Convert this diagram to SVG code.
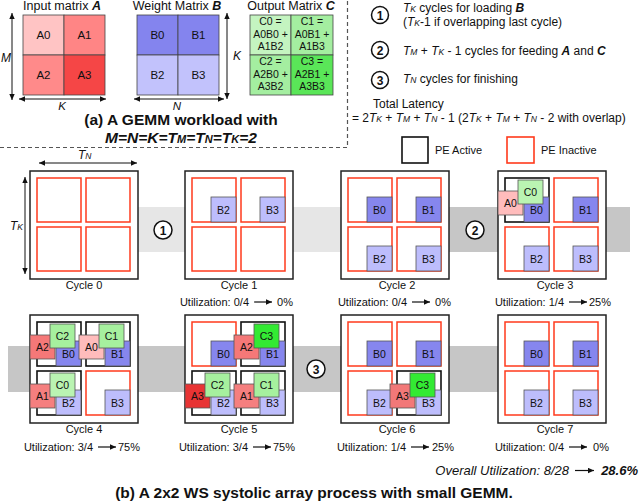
<svg xmlns="http://www.w3.org/2000/svg" width="640" height="504" viewBox="0 0 640 504">
<defs>
<style>
text{font-family:"Liberation Sans",Arial,sans-serif;fill:#111}
.c{text-anchor:middle}
.e{text-anchor:end}
.it{font-style:italic}
.bi{font-weight:bold;font-style:italic}
.cell{stroke:#444;stroke-width:0.8}
.ml{font-size:11.5px;text-anchor:middle}
.box{fill:#fff;stroke:#222;stroke-width:1.5}
.pi{fill:#fff;stroke:#ff3a1c;stroke-width:1.5}
.pa{fill:#fff;stroke:#111;stroke-width:1.6}
.sq{stroke:#555;stroke-width:0.8}
.sl{font-size:10.5px;text-anchor:middle}
.bd{fill:#8686ee}
.bl{fill:#bdbdfc}
.lab{font-size:11px;text-anchor:middle}
.ut{font-size:11px}
.arr{stroke:#111;stroke-width:1.2;fill:none}
.dim{stroke:#111;stroke-width:1;fill:none;marker-start:url(#ah);marker-end:url(#ah)}
.num{font-size:12px;font-weight:bold;text-anchor:middle}
.circ{fill:#fff;stroke:#111;stroke-width:1.5}
.rt{font-size:12px}
.sm{font-size:8.5px}
</style>
<marker id="ah" viewBox="0 0 10 10" refX="10" refY="5" markerUnits="userSpaceOnUse" markerWidth="7" markerHeight="6" orient="auto-start-reverse"><path d="M0,0.5 L10,5 L0,9.5 z" fill="#111"/></marker>
<marker id="ua" viewBox="0 0 10 10" refX="10" refY="5" markerUnits="userSpaceOnUse" markerWidth="7" markerHeight="6" orient="auto"><path d="M0,0.5 L10,5 L0,9.5 z" fill="#111"/></marker>
</defs>
<rect width="640" height="504" fill="#fff"/>

<!-- background bands -->
<g id="bands">
<rect x="100" y="207" width="296" height="45" fill="#e6e6e6"/>
<rect x="396" y="207" width="234" height="45" fill="#c6c6c6"/>
<rect x="8" y="346" width="500" height="46" fill="#c6c6c6"/>
</g>

<!-- (a) matrices -->
<g id="matrix-a">
<text x="62" y="10" font-size="12.5" class="c">Input matrix <tspan class="bi">A</tspan></text>
<rect class="cell" x="23" y="15" width="41" height="40" fill="#ffc4c4"/>
<rect class="cell" x="64" y="15" width="41" height="40" fill="#ff8585"/>
<rect class="cell" x="23" y="55" width="41" height="40" fill="#ff8a8a"/>
<rect class="cell" x="64" y="55" width="41" height="40" fill="#f54646"/>
<text class="ml" x="43.5" y="39">A0</text>
<text class="ml" x="84.5" y="39">A1</text>
<text class="ml" x="43.5" y="79">A2</text>
<text class="ml" x="84.5" y="79">A3</text>
<text x="1" y="62" font-size="12" class="it">M</text>
<text x="62" y="110" font-size="11.5" class="it c">K</text>
</g>
<g id="matrix-b">
<text x="177" y="10" font-size="12.5" class="c">Weight Matrix <tspan class="bi">B</tspan></text>
<rect class="cell" x="137" y="15" width="41" height="40" fill="#8484ee"/>
<rect class="cell" x="178" y="15" width="41" height="40" fill="#8484ee"/>
<rect class="cell" x="137" y="55" width="41" height="40" fill="#c2c2fc"/>
<rect class="cell" x="178" y="55" width="41" height="40" fill="#c2c2fc"/>
<text class="ml" x="157.5" y="39">B0</text>
<text class="ml" x="198.5" y="39">B1</text>
<text class="ml" x="157.5" y="79">B2</text>
<text class="ml" x="198.5" y="79">B3</text>
<text x="177" y="110" font-size="11.5" class="it c">N</text>
<text x="233" y="60" font-size="12" class="it">K</text>
</g>
<g id="matrix-c">
<text x="291" y="10" font-size="12.5" class="c">Output Matrix <tspan class="bi">C</tspan></text>
<rect class="cell" x="250" y="15" width="41" height="40" fill="#c4f4c0"/>
<rect class="cell" x="291" y="15" width="42" height="40" fill="#a4eea0"/>
<rect class="cell" x="250" y="55" width="41" height="40" fill="#a4eea0"/>
<rect class="cell" x="291" y="55" width="42" height="40" fill="#5ae658"/>
<g font-size="10.5" text-anchor="middle">
<text x="270.5" y="25">C0 =</text><text x="270.5" y="37.5">A0B0 +</text><text x="270.5" y="50">A1B2</text>
<text x="312" y="25">C1 =</text><text x="312" y="37.5">A0B1 +</text><text x="312" y="50">A1B3</text>
<text x="270.5" y="65">C2 =</text><text x="270.5" y="77.5">A2B0 +</text><text x="270.5" y="90">A3B2</text>
<text x="312" y="65">C3 =</text><text x="312" y="77.5">A2B1 +</text><text x="312" y="90">A3B3</text>
</g>
</g>
<g id="title-a">
<text x="181" y="125" font-size="15.5" font-weight="bold" class="c">(a) A GEMM workload with</text>
<text x="181" y="143" font-size="15.5" class="bi c">M=N=K=T<tspan font-size="11">M</tspan>=T<tspan font-size="11">N</tspan>=T<tspan font-size="11">K</tspan>=2</text>
</g>
<path d="M0,147.5 H347.5 V0" fill="none" stroke="#555" stroke-width="1.2" stroke-dasharray="4 3"/>

<!-- right side notes -->
<g id="notes">
<circle class="circ" cx="380" cy="15" r="8.5"/><text class="num" x="380" y="19.5">1</text>
<circle class="circ" cx="380" cy="50" r="8.5"/><text class="num" x="380" y="54.5">2</text>
<circle class="circ" cx="380" cy="80" r="8.5"/><text class="num" x="380" y="84.5">3</text>
<text class="rt" x="403" y="12"><tspan class="it">T<tspan class="sm">K</tspan></tspan> cycles for loading <tspan class="bi">B</tspan></text>
<text class="rt" x="403" y="26">(<tspan class="it">T<tspan class="sm">K</tspan></tspan>-1 if overlapping last cycle)</text>
<text class="rt" x="403" y="55"><tspan class="it">T<tspan class="sm">M</tspan></tspan> + <tspan class="it">T<tspan class="sm">K</tspan></tspan> - 1 cycles for feeding <tspan class="bi">A</tspan> and <tspan class="bi">C</tspan></text>
<text class="rt" x="403" y="83"><tspan class="it">T<tspan class="sm">N</tspan></tspan> cycles for finishing</text>
<text class="rt" x="373" y="108">Total Latency</text>
<text class="rt" x="352" y="122">= 2<tspan class="it">T<tspan class="sm">K</tspan></tspan> + <tspan class="it">T<tspan class="sm">M</tspan></tspan> + <tspan class="it">T<tspan class="sm">N</tspan></tspan> - 1 (2<tspan class="it">T<tspan class="sm">K</tspan></tspan> + <tspan class="it">T<tspan class="sm">M</tspan></tspan> + <tspan class="it">T<tspan class="sm">N</tspan></tspan> - 2 with overlap)</text>
</g>

<!-- legend -->
<g id="legend">
<rect x="402" y="137" width="26" height="26" fill="#fff" stroke="#111" stroke-width="1.6"/>
<text x="435" y="154" font-size="11">PE Active</text>
<rect x="507" y="137" width="27" height="26" fill="#fff" stroke="#ff3a1c" stroke-width="1.6"/>
<text x="541" y="154" font-size="11">PE Inactive</text>
</g>

<!-- connectors: dimension arrows -->
<g id="connectors">
<line class="dim" x1="12" y1="13" x2="12" y2="100"/>
<line class="dim" x1="19" y1="99" x2="106" y2="99"/>
<line class="dim" x1="134" y1="99" x2="224" y2="99"/>
<line class="dim" x1="227" y1="13" x2="227" y2="99"/>
<line class="dim" x1="39" y1="163" x2="137" y2="163"/>
<line class="dim" x1="25" y1="177" x2="25" y2="274"/>
</g>
<text x="78" y="159" font-size="12" class="it">T<tspan class="sm">N</tspan></text>
<text x="10" y="230" font-size="12" class="it">T<tspan class="sm">K</tspan></text>

<!-- phase circles -->
<g id="phase1"><circle class="circ" cx="163" cy="230" r="9"/><text class="num" x="163" y="234.5">1</text></g>
<g id="phase2"><circle class="circ" cx="475" cy="230" r="9"/><text class="num" x="475" y="234.5">2</text></g>
<g id="phase3"><circle class="circ" cx="316" cy="369" r="9"/><text class="num" x="316" y="373.5">3</text></g>

<!-- cycle 0 -->
<g id="cycle0" transform="translate(30,171)">
<rect class="box" width="108" height="108"/>
<rect class="pi" x="7" y="7" width="44" height="44"/><rect class="pi" x="56" y="7" width="44" height="44"/>
<rect class="pi" x="7" y="56" width="44" height="44"/><rect class="pi" x="56" y="56" width="44" height="44"/>
<text class="lab" x="54" y="118">Cycle 0</text>
</g>

<!-- cycle 1 -->
<g id="cycle1" transform="translate(185,171)">
<rect class="box" width="108" height="108"/>
<rect class="pi" x="7" y="7" width="44" height="44"/><rect class="pi" x="56" y="7" width="44" height="44"/>
<rect class="pi" x="7" y="56" width="44" height="44"/><rect class="pi" x="56" y="56" width="44" height="44"/>
<rect class="sq bl" x="26" y="26" width="25" height="25"/><text class="sl" x="38.5" y="43">B2</text>
<rect class="sq bl" x="75" y="26" width="25" height="25"/><text class="sl" x="87.5" y="43">B3</text>
<text class="lab" x="54" y="118">Cycle 1</text>
<text class="ut e" x="64" y="135">Utilization: 0/4</text><line class="arr" x1="69" y1="131" x2="87" y2="131" marker-end="url(#ua)"/><text class="ut e" x="108" y="135">0%</text>
</g>

<!-- cycle 2 -->
<g id="cycle2" transform="translate(341,171)">
<rect class="box" width="108" height="108"/>
<rect class="pi" x="7" y="7" width="44" height="44"/><rect class="pi" x="56" y="7" width="44" height="44"/>
<rect class="pi" x="7" y="56" width="44" height="44"/><rect class="pi" x="56" y="56" width="44" height="44"/>
<rect class="sq bd" x="26" y="26" width="25" height="25"/><text class="sl" x="38.5" y="43">B0</text>
<rect class="sq bd" x="75" y="26" width="25" height="25"/><text class="sl" x="87.5" y="43">B1</text>
<rect class="sq bl" x="26" y="75" width="25" height="25"/><text class="sl" x="38.5" y="92">B2</text>
<rect class="sq bl" x="75" y="75" width="25" height="25"/><text class="sl" x="87.5" y="92">B3</text>
<text class="lab" x="56" y="118">Cycle 2</text>
<text class="ut e" x="66" y="135">Utilization: 0/4</text><line class="arr" x1="71" y1="131" x2="89" y2="131" marker-end="url(#ua)"/><text class="ut e" x="110" y="135">0%</text>
</g>

<!-- cycle 3 -->
<g id="cycle3" transform="translate(498,171)">
<rect class="box" width="108" height="108"/>
<rect class="pa" x="7" y="7" width="44" height="44"/><rect class="pi" x="56" y="7" width="44" height="44"/>
<rect class="pi" x="7" y="56" width="44" height="44"/><rect class="pi" x="56" y="56" width="44" height="44"/>
<rect class="sq bd" x="26" y="26" width="25" height="25"/><text class="sl" x="38.5" y="43">B0</text>
<rect class="sq bd" x="75" y="26" width="25" height="25"/><text class="sl" x="87.5" y="43">B1</text>
<rect class="sq bl" x="26" y="75" width="25" height="25"/><text class="sl" x="38.5" y="92">B2</text>
<rect class="sq bl" x="75" y="75" width="25" height="25"/><text class="sl" x="87.5" y="92">B3</text>
<rect class="sq" x="0" y="20" width="25" height="24" fill="#ffbcbc"/><text class="sl" x="12.5" y="36">A0</text>
<rect class="sq" x="20" y="9" width="25" height="24" fill="#baf4b2"/><text class="sl" x="32.5" y="25">C0</text>
<text class="lab" x="57" y="118">Cycle 3</text>
<text class="ut e" x="66" y="135">Utilization: 1/4</text><line class="arr" x1="71" y1="131" x2="89" y2="131" marker-end="url(#ua)"/><text class="ut e" x="113" y="135">25%</text>
</g>

<!-- cycle 4 -->
<g id="cycle4" transform="translate(30,315)">
<rect class="box" width="108" height="108"/>
<rect class="pa" x="7" y="7" width="44" height="44"/><rect class="pa" x="56" y="7" width="44" height="44"/>
<rect class="pa" x="7" y="56" width="44" height="44"/><rect class="pi" x="56" y="56" width="44" height="44"/>
<rect class="sq bd" x="26" y="26" width="25" height="25"/><text class="sl" x="38.5" y="43">B0</text>
<rect class="sq bd" x="75" y="26" width="25" height="25"/><text class="sl" x="87.5" y="43">B1</text>
<rect class="sq bl" x="26" y="75" width="25" height="25"/><text class="sl" x="38.5" y="92">B2</text>
<rect class="sq bl" x="75" y="75" width="25" height="25"/><text class="sl" x="87.5" y="92">B3</text>
<rect class="sq" x="0" y="20" width="25" height="24" fill="#f57878"/><text class="sl" x="12.5" y="36">A2</text>
<rect class="sq" x="49" y="20" width="25" height="24" fill="#ffbcbc"/><text class="sl" x="61.5" y="36">A0</text>
<rect class="sq" x="0" y="69" width="25" height="24" fill="#f57f7f"/><text class="sl" x="12.5" y="85">A1</text>
<rect class="sq" x="20" y="9" width="25" height="24" fill="#a6f09e"/><text class="sl" x="32.5" y="25">C2</text>
<rect class="sq" x="69" y="9" width="25" height="24" fill="#a6f09e"/><text class="sl" x="81.5" y="25">C1</text>
<rect class="sq" x="20" y="58" width="25" height="24" fill="#baf4b2"/><text class="sl" x="32.5" y="74">C0</text>
<text class="lab" x="54" y="118">Cycle 4</text>
<text class="ut e" x="63" y="136">Utilization: 3/4</text><line class="arr" x1="68" y1="132" x2="86" y2="132" marker-end="url(#ua)"/><text class="ut e" x="110" y="136">75%</text>
</g>

<!-- cycle 5 -->
<g id="cycle5" transform="translate(185,315)">
<rect class="box" width="108" height="108"/>
<rect class="pi" x="7" y="7" width="44" height="44"/><rect class="pa" x="56" y="7" width="44" height="44"/>
<rect class="pa" x="7" y="56" width="44" height="44"/><rect class="pa" x="56" y="56" width="44" height="44"/>
<rect class="sq bd" x="26" y="26" width="25" height="25"/><text class="sl" x="38.5" y="43">B0</text>
<rect class="sq bd" x="75" y="26" width="25" height="25"/><text class="sl" x="87.5" y="43">B1</text>
<rect class="sq bl" x="26" y="75" width="25" height="25"/><text class="sl" x="38.5" y="92">B2</text>
<rect class="sq bl" x="75" y="75" width="25" height="25"/><text class="sl" x="87.5" y="92">B3</text>
<rect class="sq" x="49" y="20" width="25" height="24" fill="#f57878"/><text class="sl" x="61.5" y="36">A2</text>
<rect class="sq" x="0" y="69" width="25" height="24" fill="#e83434"/><text class="sl" x="12.5" y="85">A3</text>
<rect class="sq" x="49" y="69" width="25" height="24" fill="#f57f7f"/><text class="sl" x="61.5" y="85">A1</text>
<rect class="sq" x="69" y="9" width="25" height="24" fill="#33ea33"/><text class="sl" x="81.5" y="25">C3</text>
<rect class="sq" x="20" y="58" width="25" height="24" fill="#a6f09e"/><text class="sl" x="32.5" y="74">C2</text>
<rect class="sq" x="69" y="58" width="25" height="24" fill="#a6f09e"/><text class="sl" x="81.5" y="74">C1</text>
<text class="lab" x="54" y="118">Cycle 5</text>
<text class="ut e" x="63" y="136">Utilization: 3/4</text><line class="arr" x1="68" y1="132" x2="86" y2="132" marker-end="url(#ua)"/><text class="ut e" x="110" y="136">75%</text>
</g>

<!-- cycle 6 -->
<g id="cycle6" transform="translate(341,315)">
<rect class="box" width="108" height="108"/>
<rect class="pi" x="7" y="7" width="44" height="44"/><rect class="pi" x="56" y="7" width="44" height="44"/>
<rect class="pi" x="7" y="56" width="44" height="44"/><rect class="pa" x="56" y="56" width="44" height="44"/>
<rect class="sq bd" x="26" y="26" width="25" height="25"/><text class="sl" x="38.5" y="43">B0</text>
<rect class="sq bd" x="75" y="26" width="25" height="25"/><text class="sl" x="87.5" y="43">B1</text>
<rect class="sq bl" x="26" y="75" width="25" height="25"/><text class="sl" x="38.5" y="92">B2</text>
<rect class="sq bl" x="75" y="75" width="25" height="25"/><text class="sl" x="87.5" y="92">B3</text>
<rect class="sq" x="49" y="69" width="25" height="24" fill="#f27878"/><text class="sl" x="61.5" y="85">A3</text>
<rect class="sq" x="69" y="58" width="25" height="24" fill="#33ea33"/><text class="sl" x="81.5" y="74">C3</text>
<text class="lab" x="56" y="118">Cycle 6</text>
<text class="ut e" x="65" y="136">Utilization: 1/4</text><line class="arr" x1="70" y1="132" x2="88" y2="132" marker-end="url(#ua)"/><text class="ut e" x="113" y="136">25%</text>
</g>

<!-- cycle 7 -->
<g id="cycle7" transform="translate(498,315)">
<rect class="box" width="108" height="108"/>
<rect class="pi" x="7" y="7" width="44" height="44"/><rect class="pi" x="56" y="7" width="44" height="44"/>
<rect class="pi" x="7" y="56" width="44" height="44"/><rect class="pi" x="56" y="56" width="44" height="44"/>
<rect class="sq bd" x="26" y="26" width="25" height="25"/><text class="sl" x="38.5" y="43">B0</text>
<rect class="sq bd" x="75" y="26" width="25" height="25"/><text class="sl" x="87.5" y="43">B1</text>
<rect class="sq bl" x="26" y="75" width="25" height="25"/><text class="sl" x="38.5" y="92">B2</text>
<rect class="sq bl" x="75" y="75" width="25" height="25"/><text class="sl" x="87.5" y="92">B3</text>
<text class="lab" x="57" y="118">Cycle 7</text>
<text class="ut e" x="66" y="136">Utilization: 0/4</text><line class="arr" x1="71" y1="132" x2="89" y2="132" marker-end="url(#ua)"/><text class="ut e" x="111" y="136">0%</text>
</g>

<g id="overall">
<text x="569" y="475" font-size="13" class="it e">Overall Utilization: 8/28</text>
<line class="arr" x1="575" y1="470.5" x2="594" y2="470.5" marker-end="url(#ua)"/>
<text x="638" y="475" font-size="13" class="bi e">28.6%</text>
</g>
<text x="314" y="498" font-size="15.5" font-weight="bold" class="c">(b) A 2x2 WS systolic array process with small GEMM.</text>
</svg>
